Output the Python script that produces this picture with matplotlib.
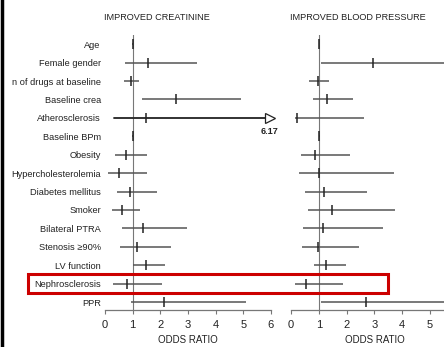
import matplotlib
matplotlib.use('Agg')
import matplotlib.pyplot as plt
from matplotlib.lines import Line2D
from matplotlib.patches import Rectangle
from matplotlib.transforms import blended_transform_factory

plt.rcParams['font.family'] = ['Liberation Sans', 'DejaVu Sans']

labels = ["Age", "Female gender", "n of drugs at baseline", "Baseline crea",
          "Atherosclerosis", "Baseline BPm", "Obesity", "Hypercholesterolemia",
          "Diabetes mellitus", "Smoker", "Bilateral PTRA", "Stenosis \u226590%",
          "LV function", "Nephrosclerosis", "PPR"]

# improved creatinine: odds ratio, lower, upper
crea_or = [1.0, 1.56, 0.93, 2.57, 1.48, 1.0, 0.75, 0.50, 0.90, 0.61, 1.37, 1.15, 1.49, 0.79, 2.15]
crea_lo = [0.98, 0.73, 0.69, 1.35, 0.34, 0.99, 0.36, 0.12, 0.44, 0.26, 0.61, 0.54, 1.02, 0.30, 0.95]
crea_hi = [1.02, 3.33, 1.24, 4.90, 6.17, 1.01, 1.51, 1.50, 1.87, 1.27, 2.98, 2.38, 2.17, 2.05, 5.10]

# improved blood pressure
bp_or = [1.01, 2.96, 0.97, 1.30, 0.22, 1.02, 0.87, 1.01, 1.19, 1.48, 1.15, 0.97, 1.26, 0.54, 2.71]
bp_lo = [1.0, 1.08, 0.65, 0.79, 0.16, 1.01, 0.36, 0.29, 0.50, 0.61, 0.43, 0.40, 0.83, 0.14, 1.08]
bp_hi = [1.02, 6.5, 1.37, 2.24, 2.63, 1.03, 2.13, 3.72, 2.74, 3.75, 3.29, 2.45, 1.99, 1.88, 6.0]

W, H = 444, 347
fig = plt.figure(figsize=(W / 100, H / 100), dpi=100)

def px(x0, y0, x1, y1):
    return [x0 / W, (H - y1) / H, (x1 - x0) / W, (y1 - y0) / H]

ax1 = fig.add_axes(px(105, 35, 271, 310))
ax2 = fig.add_axes(px(291, 35, 444, 310))

n = len(labels)
rows = list(range(n))
lc = '#555555'
tc = '#222222'

def panel(ax, ors, los, his, xmax, ticks):
    for s in ['top', 'right', 'left']:
        ax.spines[s].set_visible(False)
    ax.spines['bottom'].set_color('#777777')
    ax.spines['bottom'].set_linewidth(0.9)
    ax.axvline(1, color='#777777', lw=0.8, zorder=1)
    for r, o, lo, hi in zip(rows, ors, los, his):
        ax.plot([lo, hi], [r, r], color=lc, lw=1.1, solid_capstyle='butt')
        ax.plot([o], [r], marker='|', ms=7, mew=1.1, color=tc)
    ax.set_xticks(ticks)
    ax.set_xlim(0, xmax)
    ax.set_ylim(n - 0.57, -0.5)
    ax.tick_params(axis='x', direction='out', length=3, width=0.8, colors='#777777',
                   labelcolor=tc, labelsize=8, pad=4)
    tr = blended_transform_factory(ax.transData, fig.transFigure)
    ax.text(3, 1 - 340 / H, "ODDS RATIO", transform=tr, ha='center', va='center',
            fontsize=7, color=tc)

panel(ax1, crea_or, crea_lo, crea_hi, 6, range(0, 7))
panel(ax2, bp_or, bp_lo, bp_hi, 5.5, range(0, 6))

tf = fig.transFigure
fig.text(157 / W, 1 - 18 / H, "IMPROVED CREATININE", ha='center', va='center', fontsize=6.6, color=tc)
fig.text(358 / W, 1 - 18 / H, "IMPROVED BLOOD PRESSURE", ha='center', va='center', fontsize=6.6, color=tc)

ax1.set_yticks(rows)
ax1.set_yticklabels(labels)
ax1.tick_params(axis='y', length=0, pad=3, labelsize=6.7, labelcolor=tc)
ax2.set_yticks([])

# atherosclerosis arrow truncated at 6 with value label
ath = labels.index("Atherosclerosis")
ax1.plot([crea_lo[ath], 5.9], [ath, ath], color=tc, lw=1.1, clip_on=False)
ax1.plot([5.95], [ath], marker='>', ms=7, mfc='white', mec=tc, mew=0.9, clip_on=False)
ax1.text(5.95, ath + 0.75, "%.2f" % crea_hi[ath], ha='center', va='center',
         fontsize=6.5, fontweight='bold', color=tc, clip_on=False)

# red highlight box around nephrosclerosis
neph = labels.index("Nephrosclerosis")
bt = blended_transform_factory(fig.transFigure, ax1.transData)
fig.add_artist(Rectangle((28 / W, neph + 0.5), 360 / W, -1.05, transform=bt,
                         fill=False, edgecolor='#cc0000', lw=2.2))

# left border
fig.add_artist(Line2D([1.5 / W, 1.5 / W], [0, 1], transform=tf, color='black', lw=2.5))

fig.savefig('out.png', dpi=100)
